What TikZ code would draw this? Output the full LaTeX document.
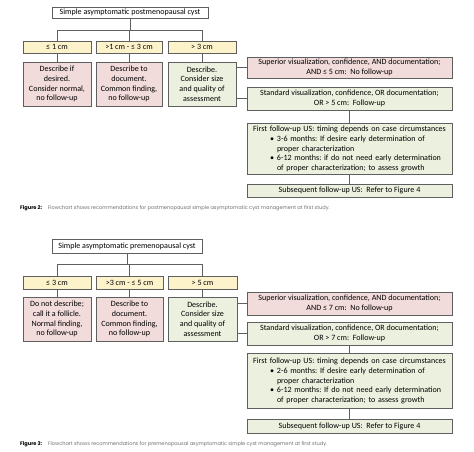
\documentclass[tikz,border=0pt]{standalone}
\usepackage{fontspec}
\setmainfont{Carlito}
\newfontfamily\capfont{Poppins}
\frenchspacing
\definecolor{bordc}{HTML}{5F5F5F}
\definecolor{yel}{HTML}{FDF3CB}
\definecolor{pnk}{HTML}{F2DCDB}
\definecolor{grn}{HTML}{EBF1DE}
\definecolor{capg}{HTML}{707070}
\newcommand{\boxfont}{\fontsize{8.05}{9.8}\selectfont}
\newcommand{\bul}[1]{\par\leftskip=27pt\parindent=0pt\noindent\hspace*{-7pt}\makebox[7pt][l]{\textbullet}#1}
\begin{document}
\begin{tikzpicture}[x=1pt,y=-1pt,
  box/.style={draw=bordc, line width=0.8pt, inner sep=1pt, align=center, font=\boxfont},
  sizebox/.style={box, fill=yel, minimum height=12pt},
  descbox/.style={box, minimum height=44pt},
  widebox/.style={box, minimum width=205pt},
  listbox/.style={draw=bordc, line width=0.8pt, font=\boxfont, fill=grn, minimum width=205pt, text width=199pt, inner xsep=3pt, inner ysep=1pt, anchor=north},
  conn/.style={draw=bordc, line width=0.8pt},
  captext/.style={anchor=west, inner sep=0pt, font=\capfont\fontsize{5.05}{5.5}\selectfont}
]
\fill[white] (0,0) rectangle (474,451);
\useasboundingbox (0,0) rectangle (474,451);

% ---------- Chart 1 ----------
\node[box, fill=white, minimum width=156pt, minimum height=11pt] (top1) at (130,12.5) {Simple asymptomatic postmenopausal cyst};
\coordinate (h1) at (130,30);
\node[sizebox, minimum width=68pt] (s11) at (57,47) {≤ 1 cm};
\node[sizebox, minimum width=66pt] (s12) at (129,47) {>1 cm - ≤ 3 cm};
\node[sizebox, minimum width=68pt] (s13) at (202,47) {> 3 cm};
\node[descbox, fill=pnk, minimum width=68pt] (d11) at (57,84) {Describe if\\desired.\\Consider normal,\\no follow-up};
\node[descbox, fill=pnk, minimum width=66pt] (d12) at (129,84) {Describe to\\document.\\Common finding,\\no follow-up};
\node[descbox, fill=grn, minimum width=68pt] (d13) at (202,84) {Describe.\\Consider size\\and quality of\\assessment};
\node[widebox, fill=pnk, minimum height=21pt] (sup1) at (349.5,67.5) {Superior visualization, confidence, AND documentation;\\AND ≤ 5 cm:\ \ No follow-up};
\node[widebox, fill=grn, minimum height=23pt] (std1) at (349.5,98.5) {Standard visualization, confidence, OR documentation;\\OR > 5 cm:\ \ Follow-up};
\node[listbox, minimum height=51pt] (f1) at (349.5,123) {{\centering\mbox{First follow-up US: timing depends on case circumstances}\par}
\bul{\mbox{3-6 months: If desire early determination of}\newline\mbox{proper characterization}}
\bul{\mbox{6-12 months: if do not need early determination}\newline\mbox{of proper characterization; to assess growth}}\par};
\node[widebox, fill=grn, minimum height=13pt] (sub1) at (349.5,190.5) {Subsequent follow-up US:\ \ Refer to Figure 4};

\draw[conn] (top1.south) -- (h1);
\draw[conn] (s11.north) |- (h1);
\draw[conn] (s13.north) |- (h1);
\draw[conn] (s12.north) -- (s12.north |- h1);
\draw[conn] (s11.south) -- (d11.north);
\draw[conn] (s12.south) -- (d12.north);
\draw[conn] (s13.south) -- (d13.north);
\draw[conn] (sup1.west) -- (sup1.west -| d13.east);
\draw[conn] (std1.west) -- (std1.west -| d13.east);
\draw[conn] (std1.south) -- (f1.north);
\draw[conn] (f1.south) -- (sub1.north);

\node[captext] (c1) at (20,208) {\textbf{Figure 2:}\hspace{6pt}{\color{capg}Flowchart shows recommendations for postmenopausal simple asymptomatic cyst management at first study.}};

% ---------- Chart 2 ----------
\node[box, fill=white, minimum width=150pt, minimum height=14pt] (top2) at (127,246) {Simple asymptomatic premenopausal cyst};
\coordinate (h2) at (127,264);
\node[sizebox, minimum width=68pt, minimum height=13pt] (s21) at (57,282.5) {≤ 3 cm};
\node[sizebox, minimum width=67pt, minimum height=13pt] (s22) at (129.5,282.5) {>3 cm - ≤ 5 cm};
\node[sizebox, minimum width=69pt, minimum height=13pt] (s23) at (202.5,282.5) {> 5 cm};
\node[descbox, fill=pnk, minimum width=68pt] (d21) at (57,319) {Do not describe;\\call it a follicle.\\Normal finding,\\no follow-up};
\node[descbox, fill=pnk, minimum width=67pt] (d22) at (129.5,319) {Describe to\\document.\\Common finding,\\no follow-up};
\node[descbox, fill=grn, minimum width=69pt] (d23) at (202.5,319) {Describe.\\Consider size\\and quality of\\assessment};
\node[widebox, fill=pnk, minimum height=23pt] (sup2) at (349.5,303.5) {Superior visualization, confidence, AND documentation;\\AND ≤ 7 cm:\ \ No follow-up};
\node[widebox, fill=grn, minimum height=23pt] (std2) at (349.5,333.5) {Standard visualization, confidence, OR documentation;\\OR > 7 cm:\ \ Follow-up};
\node[listbox, minimum height=55pt] (f2) at (349.5,353) {{\centering\mbox{First follow-up US: timing depends on case circumstances}\par}
\bul{\mbox{2-6 months: If desire early determination of}\newline\mbox{proper characterization}}
\bul{\mbox{6-12 months: If do not need early determination}\newline\mbox{of proper characterization; to assess growth}}\par};
\node[widebox, fill=grn, minimum height=14pt] (sub2) at (349.5,426) {Subsequent follow-up US:\ \ Refer to Figure 4};

\draw[conn] (top2.south) -- (h2);
\draw[conn] (s21.north) |- (h2);
\draw[conn] (s23.north) |- (h2);
\draw[conn] (s22.north) -- (s22.north |- h2);
\draw[conn] (s21.south) -- (d21.north);
\draw[conn] (s22.south) -- (d22.north);
\draw[conn] (s23.south) -- (d23.north);
\draw[conn] (sup2.west) -- (sup2.west -| d23.east);
\draw[conn] (std2.west) -- (std2.west -| d23.east);
\draw[conn] (std2.south) -- (f2.north);
\draw[conn] (f2.south) -- (sub2.north);

\node[captext] (c2) at (20,444) {\textbf{Figure 3:}\hspace{6pt}{\color{capg}Flowchart shows recommendations for premenopausal asymptomatic simple cyst management at first study.}};
\end{tikzpicture}
\end{document}
